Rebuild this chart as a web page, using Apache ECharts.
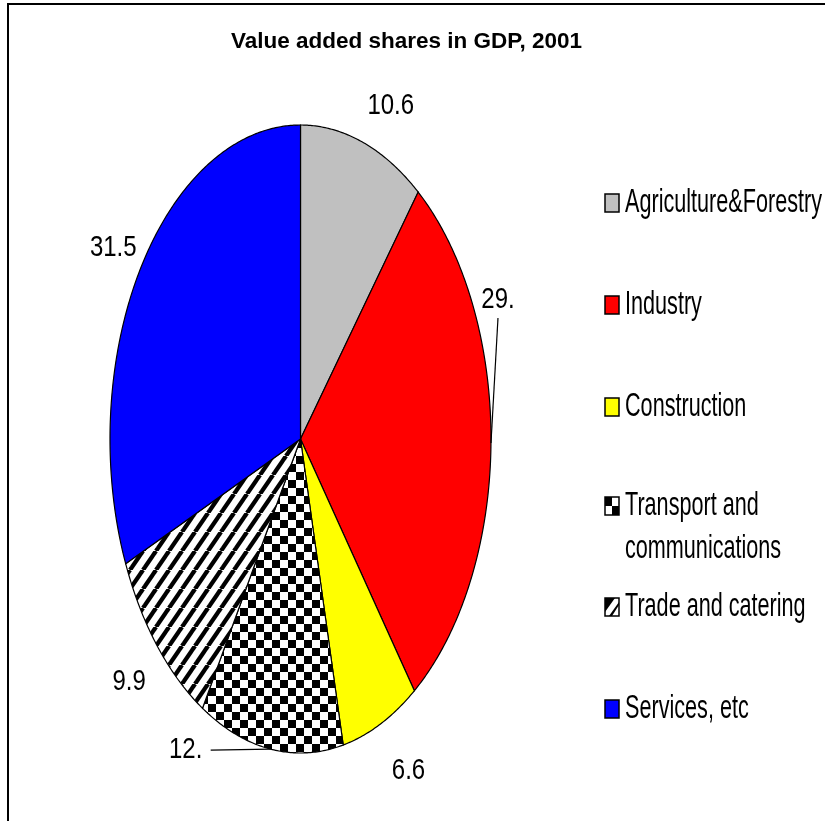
<!DOCTYPE html>
<html>
<head>
<meta charset="utf-8">
<script src="https://cdn.jsdelivr.net/npm/echarts@6/dist/echarts.min.js"></script>
<style>
  html, body { margin: 0; padding: 0; background: #fff; }
  #chart { width: 825px; height: 821px; }
</style>
</head>
<body>
<div id="chart"></div>
<script>
// ---- data ----
const categories = ['Agriculture&Forestry', 'Industry', 'Construction', 'Transport and communications', 'Trade and catering', 'Services, etc'];
const legendTexts = ['Agriculture&Forestry', 'Industry', 'Construction', 'Transport and\ncommunications', 'Trade and catering', 'Services, etc'];
const shares = [10.6, 29.2, 6.6, 12.2, 9.9, 31.5];
const labelTexts = ['10.6', '29.', '6.6', '12.', '9.9', '31.5'];
const titleText = 'Value added shares in GDP, 2001';

// ---- layout / style ----
const FONT = '"Liberation Sans", Arial, sans-serif';
const cx = 300.5, cy = 439, ra = 190.5, rb = 314;
const legendCenters = [203, 305, 407, 506, 607, 709];
const leaderOffsets = { 1: [7, -143], 3: [-85, 1] };

function checkerCanvas(cell) {
  const c = document.createElement('canvas');
  c.width = c.height = cell * 2;
  const g = c.getContext('2d');
  g.fillStyle = '#fff'; g.fillRect(0, 0, c.width, c.height);
  g.fillStyle = '#000'; g.fillRect(0, 0, cell, cell); g.fillRect(cell, cell, cell, cell);
  return c;
}
function stripeCanvas(w, h, lw) {
  const c = document.createElement('canvas');
  c.width = w; c.height = h;
  const g = c.getContext('2d');
  g.fillStyle = '#fff'; g.fillRect(0, 0, w, h);
  g.strokeStyle = '#000'; g.lineWidth = lw;
  for (let k = -1; k <= 1; k++) {
    g.beginPath(); g.moveTo(k * w, h); g.lineTo(k * w + w, 0); g.stroke();
  }
  return c;
}
function iconCanvas(kind) {
  const c = document.createElement('canvas');
  c.width = 14; c.height = 18;
  const g = c.getContext('2d');
  g.fillStyle = '#fff'; g.fillRect(0, 0, 14, 18);
  g.fillStyle = '#000';
  if (kind === 'checker') {
    g.fillRect(0, 0, 7, 9); g.fillRect(7, 9, 7, 9);
  } else {
    g.beginPath(); g.moveTo(0, 0); g.lineTo(10, 0); g.lineTo(0, 14); g.closePath(); g.fill();
    g.beginPath(); g.moveTo(14, 4); g.lineTo(14, 7); g.lineTo(7, 18); g.lineTo(4, 18); g.closePath(); g.fill();
  }
  return c;
}

const checkerPattern = { image: checkerCanvas(8), repeat: 'repeat' };
const stripePattern = { image: stripeCanvas(13, 19, 4.3), repeat: 'repeat' };
const fills = ['#c0c0c0', '#ff0000', '#ffff00', checkerPattern, stripePattern, '#0000ff'];
const iconFills = ['#c0c0c0', '#ff0000', '#ffff00',
  { image: iconCanvas('checker'), repeat: 'no-repeat' },
  { image: iconCanvas('stripe'), repeat: 'no-repeat' }, '#0000ff'];

function pt(t, a, b) { return [cx + a * Math.sin(t), cy - b * Math.cos(t)]; }

function makeRender(i) {
  return function (params, api) {
    const total = shares.reduce((s, v) => s + v, 0);
    const before = shares.slice(0, i).reduce((s, v) => s + v, 0);
    const t0 = before / total * Math.PI * 2;
    const t1 = t0 + api.value(0) / total * Math.PI * 2;
    const pts = [[cx, cy]];
    const n = Math.max(2, Math.ceil((t1 - t0) / (Math.PI / 360)));
    for (let k = 0; k <= n; k++) pts.push(pt(t0 + (t1 - t0) * k / n, ra, rb));
    const mid = (t0 + t1) / 2;
    const p = pt(mid, ra, rb);
    let center;
    const children = [{
      type: 'polygon',
      shape: { points: pts },
      style: { fill: fills[i], stroke: '#000', lineWidth: 1.2 }
    }];
    if (leaderOffsets[i]) {
      const off = leaderOffsets[i];
      center = [p[0] + off[0], p[1] + off[1]];
      let start;
      if (Math.abs(off[1]) > Math.abs(off[0])) start = [center[0], center[1] - Math.sign(off[1]) * 18];
      else start = [center[0] - Math.sign(off[0]) * 25, center[1]];
      children.push({
        type: 'polyline',
        shape: { points: [start, p] },
        style: { stroke: '#000', lineWidth: 1.2, fill: null }
      });
    } else {
      center = [p[0] + 28 * Math.sign(Math.sin(mid)), p[1] + 6 - 45 * Math.cos(mid)];
    }
    children.push({
      type: 'text',
      x: center[0], y: center[1], scaleX: 0.8,
      style: {
        text: labelTexts[i], x: 0, y: 0,
        align: 'center', verticalAlign: 'middle',
        fill: '#000', fontSize: 30, fontFamily: FONT
      }
    });
    return { type: 'group', children: children };
  };
}

const legendGraphics = [];
categories.forEach((name, i) => {
  const yc = legendCenters[i];
  legendGraphics.push({
    type: 'rect', x: 605, y: yc - 9,
    shape: { x: 0, y: 0, width: 14, height: 18 },
    style: { fill: iconFills[i], stroke: '#000', lineWidth: 1.5 }
  });
  const multi = legendTexts[i].indexOf('\n') >= 0;
  legendGraphics.push({
    type: 'text', x: 625, y: multi ? yc - 21.5 : yc, scaleX: 0.655,
    style: {
      text: legendTexts[i], x: 0, y: 0, fill: '#000',
      fontSize: 33, fontFamily: FONT, lineHeight: 43,
      align: 'left', verticalAlign: multi ? 'top' : 'middle'
    }
  });
});

const chart = echarts.init(document.getElementById('chart'), null, { renderer: 'canvas' });
const option = {
  animation: false,
  backgroundColor: '#fff',
  title: {
    text: titleText, left: 231, top: 30, padding: 0,
    textStyle: { fontFamily: FONT, fontSize: 22.5, fontWeight: 'bold', color: '#000' }
  },
  graphic: [{
    type: 'rect', shape: { x: 8, y: 4, width: 1000, height: 1000 },
    style: { fill: 'none', stroke: '#000', lineWidth: 2 }, silent: true, z: 100
  }].concat(legendGraphics),
  series: categories.map((name, i) => ({
    type: 'custom', name: name, coordinateSystem: 'none',
    data: [[shares[i]]],
    renderItem: makeRender(i)
  }))
};
chart.setOption(option);
</script>
</body>
</html>
